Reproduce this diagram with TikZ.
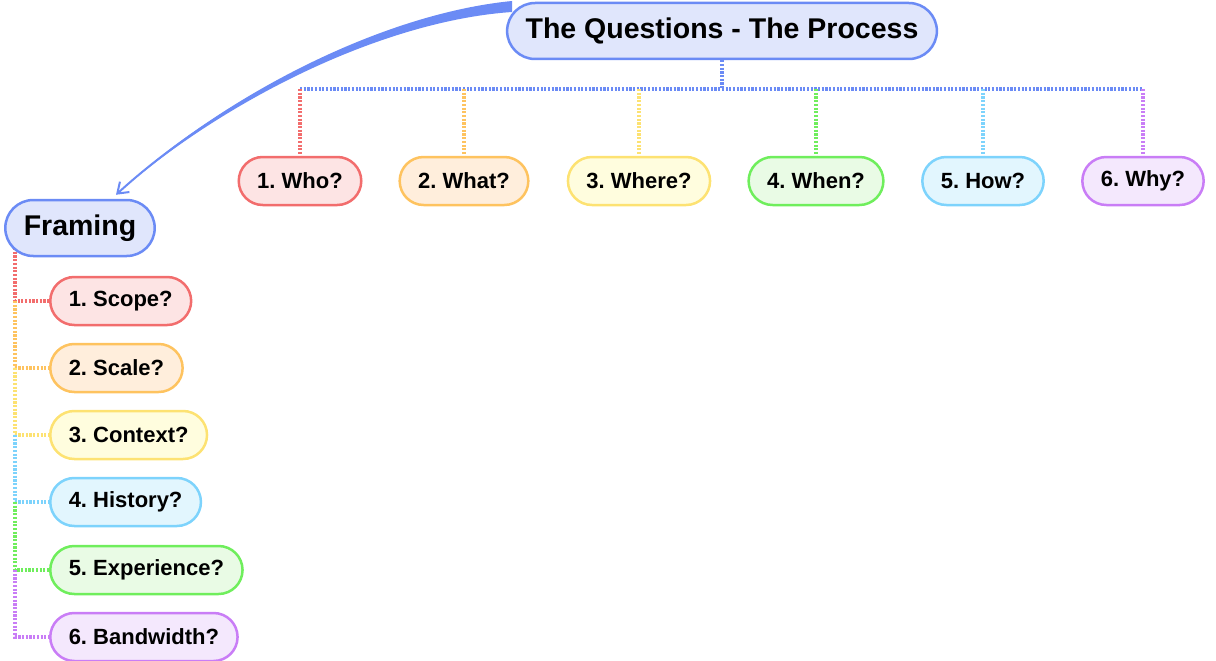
\documentclass[tikz,border=0pt]{standalone}
\usepackage{fontspec}
\setmainfont{Liberation Sans}
\usetikzlibrary{arrows.meta}
\definecolor{qblue}{HTML}{6B8BF5}
\definecolor{qbluefill}{HTML}{E0E6FC}
\definecolor{cred}{HTML}{F26D6D}
\definecolor{credfill}{HTML}{FDE4E4}
\definecolor{corange}{HTML}{FEC35F}
\definecolor{corangefill}{HTML}{FFEEDC}
\definecolor{cyellow}{HTML}{FDE272}
\definecolor{cyellowfill}{HTML}{FFFDDE}
\definecolor{cgreen}{HTML}{6FEE5C}
\definecolor{cgreenfill}{HTML}{E9FBE5}
\definecolor{ccyan}{HTML}{7DD3FC}
\definecolor{ccyanfill}{HTML}{E2F6FE}
\definecolor{cpurple}{HTML}{C97DF6}
\definecolor{cpurplefill}{HTML}{F4E8FD}
\pgfdeclarelayer{bg}
\pgfsetlayers{bg,main}
\frenchspacing

\begin{document}
\begin{tikzpicture}[x=1pt, y=-1pt,
   qbox/.style={draw, rounded corners=24pt, line width=2.5pt, minimum height=48pt,
      inner xsep=18.5pt, font=\fontsize{22}{26}\selectfont\bfseries},
   headbox/.style={qbox, rounded corners=28pt, minimum height=56pt,
      font=\fontsize{28.5}{32}\selectfont\bfseries, draw=qblue, fill=qbluefill},
   dotline/.style={line width=3.5pt, dash pattern=on 2.2pt off 1.5pt}]
   \useasboundingbox (0,0) rectangle (1216,661);

   % heads
   \node[headbox] (main) at (722,31) {The Questions - The Process};
   \node[headbox] (framing) at (80,228) {Framing};

   % the six questions
   \node[qbox, draw=cred, fill=credfill] (who) at (300,181) {1. Who?};
   \node[qbox, draw=corange, fill=corangefill] (what) at (464,181) {2. What?};
   \node[qbox, draw=cyellow, fill=cyellowfill] (where) at (639,181) {3. Where?};
   \node[qbox, draw=cgreen, fill=cgreenfill] (when) at (816,181) {4. When?};
   \node[qbox, draw=ccyan, fill=ccyanfill] (how) at (983,181) {5. How?};
   \node[qbox, draw=cpurple, fill=cpurplefill] (why) at (1143,181) {6. Why?};

   % framing questions
   \node[qbox, anchor=west, draw=cred, fill=credfill] (scope) at (49,301) {1. Scope?};
   \node[qbox, anchor=west, draw=corange, fill=corangefill] (scale) at (49,368) {2. Scale?};
   \node[qbox, anchor=west, draw=cyellow, fill=cyellowfill] (context) at (49,435) {3. Context?};
   \node[qbox, anchor=west, draw=ccyan, fill=ccyanfill] (history) at (49,502) {4. History?};
   \node[qbox, anchor=west, draw=cgreen, fill=cgreenfill] (experience) at (49,570) {5. Experience?};
   \node[qbox, anchor=west, draw=cpurple, fill=cpurplefill] (bandwidth) at (49,637) {6. Bandwidth?};

   \coordinate (bus) at (722,89);
   \coordinate (trunk) at (15,248);
   \coordinate (tip) at ([xshift=36pt,yshift=4pt]framing.north);

   \begin{pgfonlayer}{bg}
   % tree of the questions
   \draw[dotline, qblue] (main) -- (bus);
   \draw[dotline, qblue] (who |- bus) -- (why |- bus);
   \draw[dotline, cred] (who |- bus) -- (who);
   \draw[dotline, corange] (what |- bus) -- (what);
   \draw[dotline, cyellow] (where |- bus) -- (where);
   \draw[dotline, cgreen] (when |- bus) -- (when);
   \draw[dotline, ccyan] (how |- bus) -- (how);
   \draw[dotline, cpurple] (why |- bus) -- (why);

   % framing list
   \draw[dotline, cred] (trunk) |- (scope.west);
   \draw[dotline, corange] (trunk |- scope.west) |- (scale.west);
   \draw[dotline, cyellow] (trunk |- scale.west) |- (context.west);
   \draw[dotline, ccyan] (trunk |- context.west) |- (history.west);
   \draw[dotline, cgreen] (trunk |- history.west) |- (experience.west);
   \draw[dotline, cpurple] (trunk |- experience.west) |- (bandwidth.west);

   % process -> framing
   \fill[qblue] (512,1) .. controls (380,14) and (219,98) .. (tip)
      .. controls (221,102) and (381,21) .. (512,12) -- cycle;
   \draw[qblue, line width=2pt, -{Straight Barb[length=10pt,width=14pt]}]
      (main.173) .. controls (380,17.5) and (220,100) .. (tip);
   \end{pgfonlayer}
\end{tikzpicture}
\end{document}
